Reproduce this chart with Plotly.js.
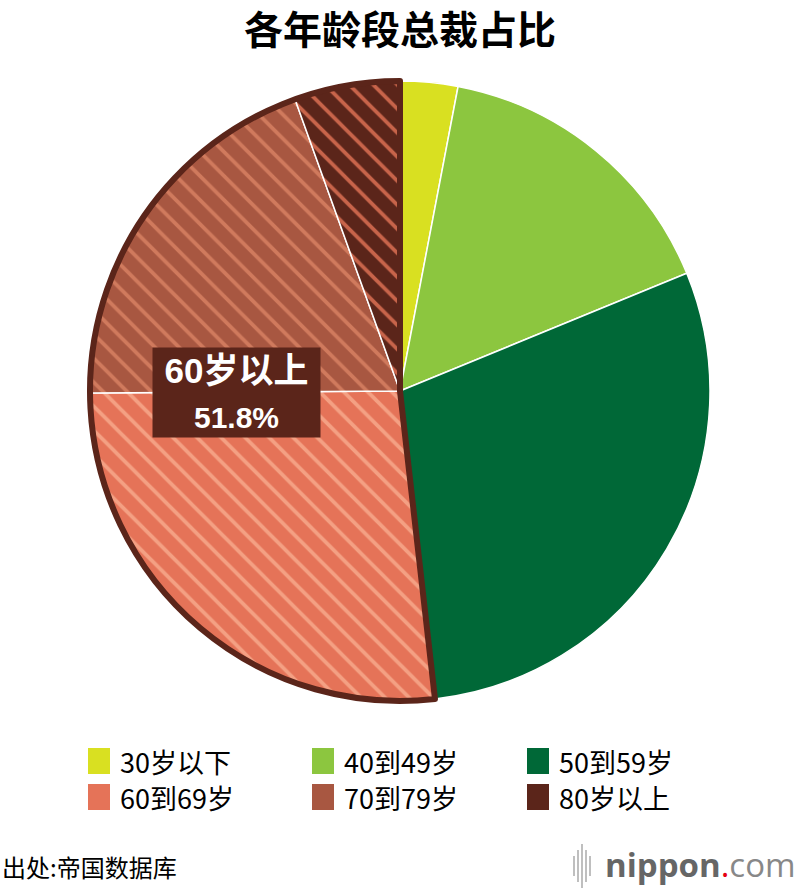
<!DOCTYPE html>
<html><head><meta charset="utf-8">
<script src="https://cdn.plot.ly/plotly-3.0.1.min.js"></script>
<style>html,body{margin:0;padding:0;background:#fff}</style>
</head><body><div id="chart" style="width:800px;height:890px"></div>
<script>
// ---- data ----
const labels = ['30岁以下', '40到49岁', '50到59岁', '60到69岁', '70到79岁', '80岁以上'];
const shares = [3.0, 15.8, 29.4, 26.7, 19.6, 5.5];
const isSenior = [false, false, false, true, true, true];
const colors = ['#d9e021', '#8cc63f', '#006837', '#e57358', '#a85741', '#5b251a'];
const stripeColors = ['#d9e021', '#8cc63f', '#006837', '#f4a083', '#d07a5d', '#c8644a'];
const titleText = '各年龄段总裁占比';
const seniorLabel = '60岁以上';
const sourceText = '出处:帝国数据库';

// ---- helpers ----
const W = 800, H = 890;
const px = x => x / W, py = y => 1 - y / H;

const seniorSum = shares.filter((v, i) => isSenior[i]).reduce((a, b) => a + b, 0);
const juniorSum = shares.filter((v, i) => !isSenior[i]).reduce((a, b) => a + b, 0);

const cx = 400, cy = 391, R = 310;
const domain = { x: [px(cx - R), px(cx + R)], y: [py(cy + R), py(cy - R)] };

const pie = {
  type: 'pie', labels: labels, values: shares, sort: false, direction: 'clockwise', rotation: 0,
  textinfo: 'none', hoverinfo: 'none', showlegend: false, domain: domain,
  marker: {
    colors: colors,
    line: { color: '#ffffff', width: 1.5 },
    pattern: {
      shape: isSenior.map(s => s ? '\\' : ''),
      fgcolor: stripeColors,
      bgcolor: colors,
      fillmode: 'replace',
      size: 17,
      solidity: 0.22
    }
  }
};

const outline = {
  type: 'pie', labels: ['其他', seniorLabel], values: [juniorSum, seniorSum], sort: false,
  direction: 'clockwise', rotation: 0, textinfo: 'none', hoverinfo: 'none', showlegend: false,
  domain: domain,
  marker: { colors: ['rgba(0,0,0,0)', 'rgba(0,0,0,0)'], line: { color: '#5b251a', width: [0, 6] } }
};

const FONT = 'Noto Sans CJK SC, sans-serif';
const BOXFONT = 'Liberation Sans, Noto Sans CJK SC, sans-serif';
const annotations = [
  {
    xref: 'paper', yref: 'paper', x: px(400), y: py(27), xanchor: 'center', yanchor: 'middle',
    showarrow: false, text: '<b>' + titleText + '</b>',
    font: { family: FONT, size: 39, color: '#000' }
  },
  {
    xref: 'paper', yref: 'paper', x: px(236), y: py(392), xanchor: 'center', yanchor: 'middle',
    showarrow: false, bgcolor: '#5b251a', width: 167, height: 89, borderpad: 0,
    text: '<b>' + seniorLabel + '</b><br><span style="font-size:30px"><b>' + seniorSum.toFixed(1) + '%</b></span>',
    font: { family: BOXFONT, size: 35, color: '#ffffff' }
  },
  {
    xref: 'paper', yref: 'paper', x: px(0), y: py(866), xanchor: 'left', yanchor: 'middle',
    showarrow: false, text: sourceText, font: { family: FONT, size: 24, color: '#000' }
  },
  {
    xref: 'paper', yref: 'paper', x: px(798), y: py(864), xanchor: 'right', yanchor: 'middle',
    showarrow: false,
    text: '<b>nippon</b><span style="color:#e60012">.</span><span style="color:#888">com</span>',
    font: { family: 'Open Sans, sans-serif', size: 33, color: '#666' }
  }
];

const shapes = [];
// nippon logo bars
[[574, 10], [578, 16], [582, 22], [586, 16], [590, 10]].forEach(([x, h]) => {
  shapes.push({ type: 'line', xref: 'paper', yref: 'paper', x0: px(x), x1: px(x),
    y0: py(866 - h), y1: py(866 + h), line: { color: '#aaa', width: 1.5 } });
});

// legend (3 columns x 2 rows)
const colX = [88, 312, 527];
const rowY = [761, 797];
labels.forEach((lab, i) => {
  const c = i % 3, r = Math.floor(i / 3);
  const x = colX[c], y = rowY[r];
  shapes.push({ type: 'rect', xref: 'paper', yref: 'paper', x0: px(x), x1: px(x + 22),
    y0: py(y + 13), y1: py(y - 13), fillcolor: colors[i], line: { width: 0 } });
  annotations.push({ xref: 'paper', yref: 'paper', x: px(x + 31), y: py(y), xanchor: 'left',
    yanchor: 'middle', showarrow: false, height: 32, borderpad: 0, text: lab,
    font: { family: FONT, size: 27, color: '#000' } });
});

const layout = {
  width: W, height: H, margin: { l: 0, r: 0, t: 0, b: 0 }, paper_bgcolor: '#fff',
  annotations: annotations, shapes: shapes, showlegend: false
};

Plotly.newPlot('chart', [pie, outline], layout, { displayModeBar: false, staticPlot: true });
</script></body></html>
